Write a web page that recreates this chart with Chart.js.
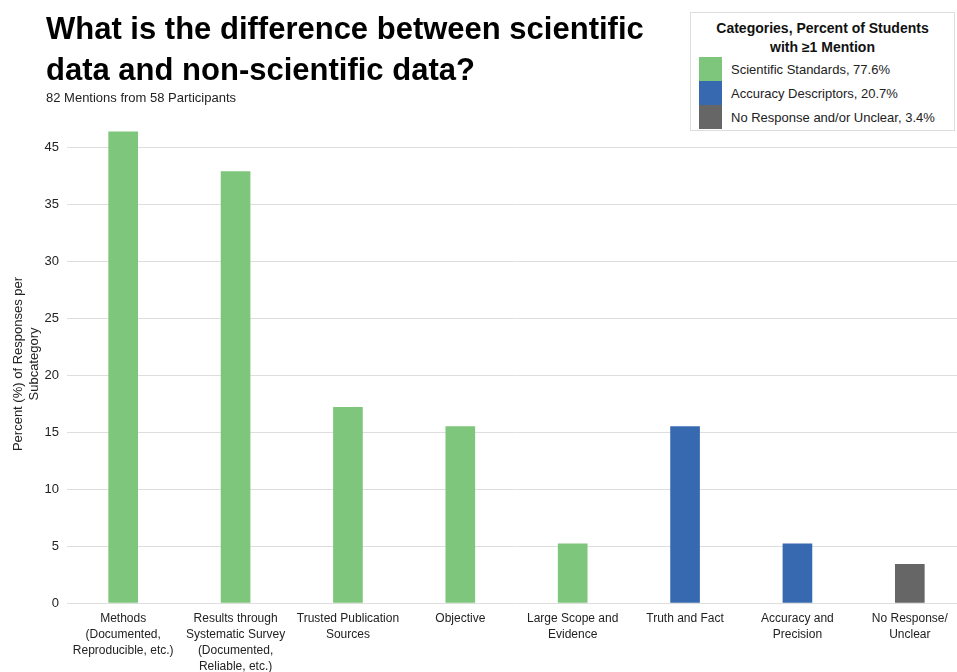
<!DOCTYPE html>
<html lang="en">

<head>
  <meta charset="utf-8" />
  <title>Scientific vs non-scientific data</title>
  <script src="https://cdn.jsdelivr.net/npm/chart.js"></script>
  <style>
    body {
      margin: 0;
      width: 957px;
      height: 672px;
      overflow: hidden;
      background: #fff;
      font-family: "Liberation Sans", Arial, sans-serif;
      position: relative;
    }

    #wrap {
      position: absolute;
      left: 0;
      top: 0;
      width: 966px;
      height: 672px;
    }

    #title {
      position: absolute;
      left: 46px;
      top: 8px;
      font-size: 31px;
      font-weight: bold;
      line-height: 41px;
      color: #000;
    }

    #subtitle {
      position: absolute;
      left: 46px;
      top: 90px;
      font-size: 13px;
      color: #222;
    }

    #legend {
      position: absolute;
      left: 690px;
      top: 12px;
      width: 265px;
      height: 119px;
      border: 1px solid #ddd;
      background: #fff;
      box-sizing: border-box;
    }

    #legend .head {
      text-align: center;
      font-weight: bold;
      font-size: 14px;
      line-height: 19px;
      margin-top: 6px;
      color: #111;
    }

    #legend .item {
      display: flex;
      align-items: center;
      height: 24px;
      font-size: 13px;
      color: #222;
    }

    #legend .sw {
      width: 23px;
      height: 24px;
      margin-left: 8px;
      margin-right: 9px;
    }
  </style>
</head>

<body>
  <div id="wrap"><canvas id="myChart"></canvas></div>
  <div id="title">What is the difference between scientific<br>data and non-scientific data?</div>
  <div id="subtitle">82 Mentions from 58 Participants</div>
  <div id="legend">
    <div class="head">Categories, Percent of Students<br>with &ge;1 Mention</div>
    <div id="legendItems"></div>
  </div>

  <script>
    // subcategories (x axis)
    const labels = [
      ['Methods', '(Documented,', 'Reproducible, etc.)'],
      ['Results through', 'Systematic Survey', '(Documented,', 'Reliable, etc.)'],
      ['Trusted Publication', 'Sources'],
      ['Objective'],
      ['Large Scope and', 'Evidence'],
      ['Truth and Fact'],
      ['Accuracy and', 'Precision'],
      ['No Response/', 'Unclear'],
    ];
    // percent of responses per subcategory
    const values = [41.4, 37.9, 17.2, 15.5, 5.2, 15.5, 5.2, 3.4];
    // which category each bar belongs to
    const barGroup = [0, 0, 0, 0, 0, 1, 1, 2];

    const groupNames = [
      'Scientific Standards, 77.6%',
      'Accuracy Descriptors, 20.7%',
      'No Response and/or Unclear, 3.4%',
    ];
    const groupColors = ['#7dc67b', '#3769b0', '#666666'];

    // y tick labels as printed on the original
    const tickValues = [0, 5, 10, 15, 20, 25, 30, 35, 40];
    const tickLabels = ['0', '5', '10', '15', '20', '25', '30', '35', '45'];

    // html legend
    const legendBox = document.getElementById('legendItems');
    groupNames.forEach((name, i) => {
      const row = document.createElement('div');
      row.className = 'item';
      row.innerHTML = `<div class="sw" style="background:${groupColors[i]}"></div>${name}`;
      legendBox.appendChild(row);
    });

    const font = "'Liberation Sans', Arial, sans-serif";
    Chart.defaults.font.family = font;

    const data = {
      labels: labels,
      datasets: [{
        data: values,
        backgroundColor: barGroup.map(g => groupColors[g]),
        barThickness: 29,
      }]
    };

    const config = {
      type: 'bar',
      data: data,
      options: {
        responsive: true,
        maintainAspectRatio: false,
        animation: false,
        layout: { padding: { top: 125, left: 0, right: 0, bottom: 0 } },
        plugins: {
          legend: { display: false },
          tooltip: { enabled: false },
        },
        scales: {
          x: {
            grid: { display: false },
            border: { display: false },
            ticks: {
              color: '#222',
              font: { size: 12, lineHeight: 1.33 },
              maxRotation: 0,
              autoSkip: false,
              padding: 0,
            },
            afterFit: s => { s.height = 69; },
          },
          y: {
            min: 0,
            max: 42,
            border: { display: false },
            grid: { color: '#dedede', drawTicks: false },
            afterBuildTicks: s => {
              s.ticks = tickValues.map(v => ({ value: v }));
            },
            ticks: {
              color: '#222',
              font: { size: 13 },
              padding: 8,
              callback: (v) => {
                const i = tickValues.indexOf(v);
                return i >= 0 ? tickLabels[i] : '';
              },
            },
            title: {
              display: true,
              text: ['Percent (%) of Responses per', 'Subcategory'],
              color: '#222',
              font: { size: 13 },
              padding: { top: 11, bottom: 0 },
            },
            afterFit: s => { s.width = 67; },
          }
        }
      }
    };

    var myChart = new Chart(document.getElementById('myChart'), config);
  </script>
</body>

</html>
